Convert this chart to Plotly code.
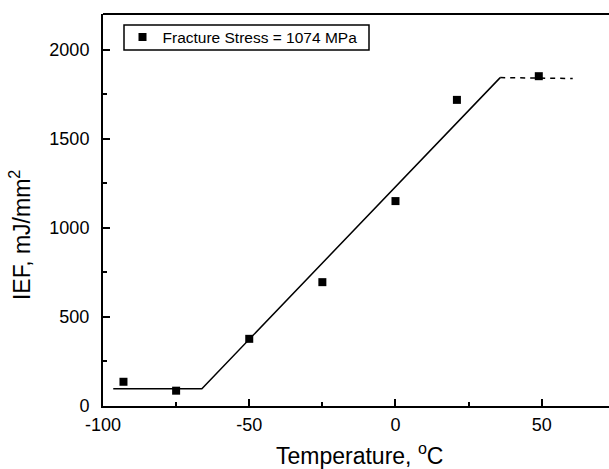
import plotly.graph_objects as go

# Measured data (Temperature in °C, IEF in mJ/mm^2)
temperature = [-93, -75, -50, -25, 0, 21, 49]
ief = [136, 86, 377, 695, 1150, 1718, 1851]

# Fitted trend (solid part) and upper shelf (dashed part)
fit_solid_t = [-96.5, -66.2, 35.8]
fit_solid_ief = [97, 97, 1843]
fit_dash_t = [35.8, 60.6]
fit_dash_ief = [1843, 1838]

x_ticks = [-100, -50, 0, 50]
y_ticks = [0, 500, 1000, 1500, 2000]

FONT = "Arial, Liberation Sans, sans-serif"
PW = 506  # plot-area width in px

fig = go.Figure()
fig.add_trace(go.Scatter(x=fit_solid_t, y=fit_solid_ief, mode="lines",
                         line=dict(color="black", width=1.5), showlegend=False,
                         hoverinfo="skip"))
fig.add_trace(go.Scatter(x=fit_dash_t, y=fit_dash_ief, mode="lines",
                         line=dict(color="black", width=1.5, dash="5px,5px"),
                         showlegend=False, hoverinfo="skip"))
fig.add_trace(go.Scatter(x=temperature, y=ief, mode="markers",
                         marker=dict(symbol="square", size=8, color="black"),
                         name="Fracture Stress = 1074 MPa"))

# top frame line
fig.add_shape(type="line", xref="paper", yref="paper", x0=0, x1=1, y0=1, y1=1,
              line=dict(color="black", width=2))
# legend frame
fig.add_shape(type="rect", xref="paper", yref="paper",
              x0=21 / PW, x1=266 / PW, y0=356 / 392, y1=381 / 392,
              line=dict(color="black", width=1.5), fillcolor="white", layer="below")

fig.add_annotation(text="Temperature, <sup>o</sup>C", xref="paper", yref="paper",
                   x=256 / PW, y=-0.1225, xanchor="center", yanchor="middle",
                   showarrow=False, font=dict(size=23))
fig.add_annotation(text="IEF, mJ/mm<sup>2</sup>", xref="paper", yref="paper",
                   x=-83 / PW, y=0.436, xanchor="center", yanchor="middle",
                   textangle=-90, showarrow=False, font=dict(size=23))

fig.update_layout(
    width=609, height=469,
    margin=dict(l=103, r=0, t=14, b=63),
    paper_bgcolor="white", plot_bgcolor="white",
    font=dict(family=FONT, color="black", size=18),
    legend=dict(x=19.5 / PW, y=0.940, xanchor="left", yanchor="middle",
                borderwidth=0, bgcolor="rgba(0,0,0,0)",
                font=dict(size=15.5, family=FONT)),
    xaxis=dict(range=[-100, 73], tickvals=x_ticks, ticktext=[str(v) for v in x_ticks],
               ticks="inside", ticklen=7, tickwidth=1.5, tickcolor="black",
               showline=True, linewidth=2, linecolor="black", mirror=False,
               showgrid=False, zeroline=False, ticklabelstandoff=1,
               automargin=False,
               minor=dict(dtick=25, tick0=0, ticks="inside", ticklen=4,
                          tickwidth=1.5, tickcolor="black", showgrid=False)),
    yaxis=dict(range=[0, 2200], tickvals=y_ticks, ticktext=[str(v) for v in y_ticks],
               ticks="inside", ticklen=7, tickwidth=1.5, tickcolor="black",
               showline=True, linewidth=2, linecolor="black", mirror=False,
               showgrid=False, zeroline=False, ticklabelstandoff=8,
               automargin=False,
               minor=dict(dtick=250, tick0=0, ticks="inside", ticklen=4,
                          tickwidth=1.5, tickcolor="black", showgrid=False)),
)

fig.write_html("out.html", config={"displayModeBar": False},
               post_script="document.body.style.margin='0';"
                           "document.body.style.overflow='hidden';")
